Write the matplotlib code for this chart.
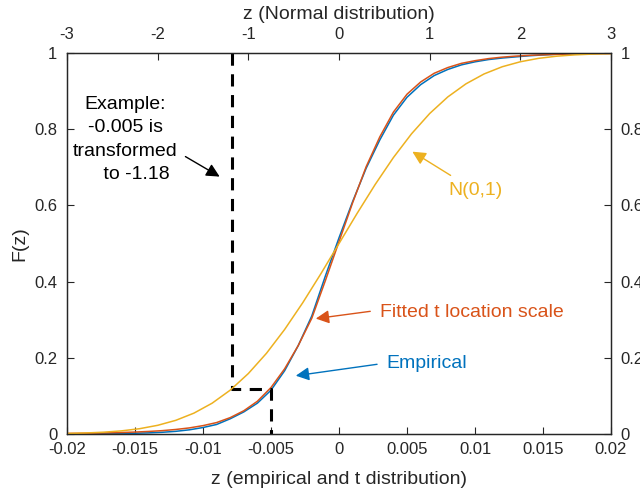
import matplotlib
matplotlib.use("Agg")
from matplotlib import pyplot as plt

plt.rcParams['font.family'] = ['Liberation Sans', 'DejaVu Sans']

# x values of the empirical / t curves (bottom axis)
x_emp = [-0.020, -0.019, -0.018, -0.017, -0.016, -0.015, -0.014, -0.013, -0.012, -0.011,
         -0.010, -0.009, -0.008, -0.007, -0.006, -0.005, -0.004, -0.003, -0.002, -0.001,
         0.000, 0.001, 0.002, 0.003, 0.004, 0.005, 0.006, 0.007, 0.008, 0.009,
         0.010, 0.011, 0.012, 0.013, 0.014, 0.015, 0.016, 0.017, 0.018, 0.019, 0.020]

# fitted t location scale CDF
f_tfit = [0.0015, 0.0019, 0.0024, 0.0030, 0.0039, 0.0051, 0.0067, 0.0088, 0.0119, 0.0160,
          0.0220, 0.0300, 0.0430, 0.0610, 0.0860, 0.1220, 0.1710, 0.2320, 0.3040, 0.4030,
          0.5050, 0.6070, 0.7020, 0.7800, 0.8450, 0.8920, 0.9240, 0.9470, 0.9620, 0.9730,
          0.9800, 0.9855, 0.9893, 0.9920, 0.9940, 0.9955, 0.9966, 0.9974, 0.9980, 0.9985, 0.9988]

# empirical CDF
f_emp = [0.0000, 0.0000, 0.0005, 0.0010, 0.0015, 0.0020, 0.0030, 0.0045, 0.0070, 0.0110,
         0.0170, 0.0250, 0.0400, 0.0580, 0.0810, 0.1150, 0.1660, 0.2320, 0.3100, 0.4150,
         0.5150, 0.6100, 0.6980, 0.7720, 0.8370, 0.8840, 0.9170, 0.9410, 0.9570, 0.9690,
         0.9770, 0.9830, 0.9870, 0.9900, 0.9930, 0.9950, 0.9970, 0.9980, 0.9990, 0.9995, 1.0000]

# N(0,1) CDF (top axis)
z_norm = [-3.0, -2.8, -2.6, -2.4, -2.2, -2.0, -1.8, -1.6, -1.4, -1.2, -1.0, -0.8, -0.6, -0.4, -0.2,
          0.0, 0.2, 0.4, 0.6, 0.8, 1.0, 1.2, 1.4, 1.6, 1.8, 2.0, 2.2, 2.4, 2.6, 2.8, 3.0]
f_norm = [0.0013, 0.0026, 0.0047, 0.0082, 0.0139, 0.0228, 0.0359, 0.0548, 0.0808, 0.1151,
          0.1587, 0.2119, 0.2743, 0.3446, 0.4207, 0.5000, 0.5793, 0.6554, 0.7257, 0.7881,
          0.8413, 0.8849, 0.9192, 0.9452, 0.9641, 0.9772, 0.9861, 0.9918, 0.9953, 0.9974, 0.9987]

# example transform: -0.005 -> -1.18
ex_x = -0.005
ex_z = -1.18
ex_f = 0.119

blue = '#0072BD'
orange = '#D95319'
yellow = '#EDB120'
axcol = '#262626'

fig = plt.figure(figsize=(6.4, 4.96), dpi=100)
ax = fig.add_axes([0.1047, 0.125, 0.85, 0.768])
ax2 = ax.twiny()

ax2.plot(z_norm, f_norm, color=yellow, lw=1.1)
ax.plot(x_emp, f_emp, color=blue, lw=1.1)
ax.plot(x_emp, f_tfit, color=orange, lw=1.1)

# dashed guide line
ex_xn = ex_z * 0.02 / 3
ax.plot([ex_xn, ex_xn, ex_x, ex_x], [1, ex_f, ex_f, 0], color='k', lw=2.2,
        linestyle=(0, (4, 2.8)))

ax.set_xlim(-0.02, 0.02)
ax.set_ylim(0, 1)
ax2.set_xlim(-3, 3)
ax.set_xticks([-0.02, -0.015, -0.01, -0.005, 0, 0.005, 0.01, 0.015, 0.02])
ax.set_xticklabels(['-0.02', '-0.015', '-0.01', '-0.005', '0', '0.005', '0.01', '0.015', '0.02'])
ax.set_yticks([0, 0.2, 0.4, 0.6, 0.8, 1])
ax.set_yticklabels(['0', '0.2', '0.4', '0.6', '0.8', '1'])
ax2.set_xticks([-3, -2, -1, 0, 1, 2, 3])
ax2.set_xticklabels(['-3', '-2', '-1', '0', '1', '2', '3'])

ax.tick_params(direction='in', length=5, width=0.8, colors=axcol, labelsize=12,
               top=False, right=True, labelright=True)
ax.tick_params(axis='x', pad=6)
ax.tick_params(axis='y', pad=7)
ax2.tick_params(direction='in', length=5, width=0.8, colors=axcol, labelsize=12, pad=8)
for a in (ax, ax2):
    for s in a.spines.values():
        s.set_color(axcol)
        s.set_linewidth(0.9)

ax.set_xlabel('z (empirical and t distribution)', fontsize=14, color=axcol, labelpad=10)
ax.set_ylabel('F(z)', fontsize=14, color=axcol, labelpad=4)
ax2.set_xlabel('z (Normal distribution)', fontsize=14, color=axcol, labelpad=6)

ax.text(-0.0157, 0.773, 'Example:\n-0.005 is\ntransformed\n    to -1.18', ha='center', va='center',
        fontsize=14, color='k', linespacing=1.5)
ax.annotate('', xy=(-0.0086, 0.672), xytext=(-0.01147, 0.732),
            arrowprops=dict(arrowstyle='-|>', color='k', lw=1.0, mutation_scale=20))

ax.text(0.0100, 0.640, 'N(0,1)', ha='center', va='center', fontsize=14, color=yellow)
ax.annotate('', xy=(0.00522, 0.745), xytext=(0.00838, 0.675),
            arrowprops=dict(arrowstyle='-|>', color=yellow, lw=1.0, mutation_scale=20))

ax.text(0.0030, 0.320, 'Fitted t location scale', ha='left', va='center', fontsize=14,
        color=orange)
ax.annotate('', xy=(-0.00191, 0.302), xytext=(0.0025, 0.323),
            arrowprops=dict(arrowstyle='-|>', color=orange, lw=1.0, mutation_scale=20))

ax.text(0.00346, 0.184, 'Empirical', ha='left', va='center', fontsize=14, color=blue)
ax.annotate('', xy=(-0.00338, 0.152), xytext=(0.0030, 0.184),
            arrowprops=dict(arrowstyle='-|>', color=blue, lw=1.0, mutation_scale=20))

fig.savefig('out.png', dpi=100)
